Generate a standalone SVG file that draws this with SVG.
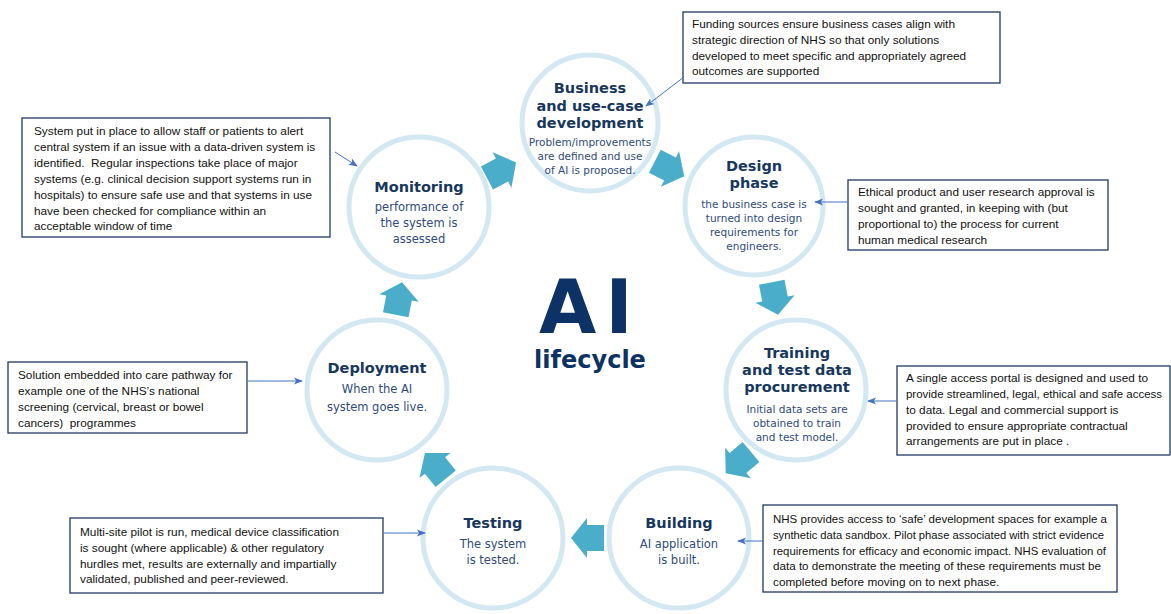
<svg xmlns="http://www.w3.org/2000/svg" width="1171" height="614" viewBox="0 0 1171 614">
<defs>
<style>
.ring{fill:#fff;stroke:#d3e8f2;stroke-width:5}
.t{font-family:"DejaVu Sans",Verdana,sans-serif;font-weight:bold;font-size:14.5px;fill:#17375e;text-anchor:middle}
.b{font-family:"DejaVu Sans",Verdana,sans-serif;font-size:10.5px;fill:#2f4b7c;text-anchor:middle}
.bl{font-family:"DejaVu Sans",Verdana,sans-serif;font-size:11.5px;fill:#2f4b7c;text-anchor:middle}
.box{fill:#fff;stroke:#1f3864;stroke-width:1.3}
.c{font-family:"Liberation Sans",Arial,sans-serif;font-size:11.8px;fill:#111;white-space:pre}
.flow{fill:#4aaecb}
.lead{stroke:#4472c4;stroke-width:1;fill:none;marker-end:url(#ah)}
</style>
<marker id="ah" viewBox="0 0 10 10" refX="9" refY="5" markerWidth="9" markerHeight="9" markerUnits="userSpaceOnUse" orient="auto">
<path d="M0,1 L10,5 L0,9 L2.5,5 Z" fill="#4472c4"/>
</marker>
<polygon id="blk" points="-17,-13 0,-13 0,-20 16,0 0,20 0,13 -17,13"/>
</defs>
<rect width="1171" height="614" fill="#fff"/>

<g id="center-title">
<text x="539" y="333" font-family="DejaVu Sans,Verdana,sans-serif" font-weight="bold" font-size="74" fill="#0d3266" letter-spacing="9">AI</text>
<text x="590" y="368" font-family="DejaVu Sans,Verdana,sans-serif" font-weight="bold" font-size="24" fill="#0d3266" text-anchor="middle">lifecycle</text>
</g>

<g id="flow-arrows" class="flow">
<use href="#blk" transform="translate(502,170) rotate(-28)"/>
<use href="#blk" transform="translate(670,169) rotate(27)"/>
<use href="#blk" transform="translate(775,299) rotate(79)"/>
<use href="#blk" transform="translate(738,463) rotate(140)"/>
<use href="#blk" transform="translate(587,538) rotate(180)"/>
<use href="#blk" transform="translate(435,465.5) rotate(-129)"/>
<use href="#blk" transform="translate(399,298) rotate(-79)"/>
</g>

<g id="node-business">
<circle class="ring" cx="590" cy="123" r="68"/>
<text class="t" x="590" y="93">Business</text>
<text class="t" x="590" y="111">and use-case</text>
<text class="t" x="590" y="128">development</text>
<text class="b" x="590" y="146">Problem/improvements</text>
<text class="b" x="590" y="160">are defined and use</text>
<text class="b" x="590" y="174">of AI is proposed.</text>
</g>

<g id="node-design">
<circle class="ring" cx="754" cy="206" r="69"/>
<text class="t" x="754" y="171">Design</text>
<text class="t" x="754" y="188">phase</text>
<text class="b" x="754" y="208">the business case is</text>
<text class="b" x="754" y="222">turned into design</text>
<text class="b" x="754" y="236">requirements for</text>
<text class="b" x="754" y="250">engineers.</text>
</g>

<g id="node-training">
<circle class="ring" cx="796" cy="390" r="70"/>
<text class="t" x="797" y="358">Training</text>
<text class="t" x="797" y="375">and test data</text>
<text class="t" x="797" y="392">procurement</text>
<text class="b" x="797" y="413">Initial data sets are</text>
<text class="b" x="797" y="427">obtained to train</text>
<text class="b" x="797" y="441">and test model.</text>
</g>

<g id="node-building">
<circle class="ring" cx="679" cy="538" r="70"/>
<text class="t" x="679" y="528">Building</text>
<text class="bl" x="679" y="548">AI application</text>
<text class="bl" x="679" y="564">is built.</text>
</g>

<g id="node-testing">
<circle class="ring" cx="493" cy="538" r="70"/>
<text class="t" x="493" y="528">Testing</text>
<text class="bl" x="493" y="548">The system</text>
<text class="bl" x="493" y="564">is tested.</text>
</g>

<g id="node-deployment">
<circle class="ring" cx="377" cy="390" r="70"/>
<text class="t" x="377" y="373">Deployment</text>
<text class="bl" x="377" y="393">When the AI</text>
<text class="bl" x="377" y="411">system goes live.</text>
</g>

<g id="node-monitoring">
<circle class="ring" cx="419" cy="207" r="70"/>
<text class="t" x="419" y="192">Monitoring</text>
<text class="bl" x="419" y="211">performance of</text>
<text class="bl" x="419" y="227">the system is</text>
<text class="bl" x="419" y="243">assessed</text>
</g>

<g id="note-funding">
<rect class="box" x="683" y="12" width="317" height="71"/>
<text class="c" x="692" y="28">Funding sources ensure business cases align with</text>
<text class="c" x="692" y="44">strategic direction of NHS so that only solutions</text>
<text class="c" x="692" y="60">developed to meet specific and appropriately agreed</text>
<text class="c" x="692" y="75">outcomes are supported</text>
</g>

<g id="note-monitoring">
<rect class="box" x="22" y="118" width="308" height="119"/>
<text class="c" x="34" y="135">System put in place to allow staff or patients to alert</text>
<text class="c" x="34" y="151">central system if an issue with a data-driven system is</text>
<text class="c" x="34" y="167" xml:space="preserve">identified.  Regular inspections take place of major</text>
<text class="c" x="34" y="183">systems (e.g. clinical decision support systems run in</text>
<text class="c" x="34" y="199">hospitals) to ensure safe use and that systems in use</text>
<text class="c" x="34" y="215">have been checked for compliance within an</text>
<text class="c" x="34" y="230">acceptable window of time</text>
</g>

<g id="note-design">
<rect class="box" x="848" y="180" width="260" height="70"/>
<text class="c" x="858" y="196">Ethical product and user research approval is</text>
<text class="c" x="858" y="212">sought and granted, in keeping with (but</text>
<text class="c" x="858" y="228">proportional to) the process for current</text>
<text class="c" x="858" y="244">human medical research</text>
</g>

<g id="note-training">
<rect class="box" x="897" y="366" width="273" height="89"/>
<text class="c" x="906" y="382">A single access portal is designed and used to</text>
<text class="c" x="906" y="398" textLength="256" lengthAdjust="spacingAndGlyphs">provide streamlined, legal, ethical and safe access</text>
<text class="c" x="906" y="414">to data. Legal and commercial support is</text>
<text class="c" x="906" y="430">provided to ensure appropriate contractual</text>
<text class="c" x="906" y="445">arrangements are put in place .</text>
</g>

<g id="note-building">
<rect class="box" x="763" y="505" width="354" height="87"/>
<text class="c" x="773" y="523" textLength="334" lengthAdjust="spacingAndGlyphs">NHS provides access to ‘safe’ development spaces for example a</text>
<text class="c" x="773" y="539" textLength="331" lengthAdjust="spacingAndGlyphs">synthetic data sandbox. Pilot phase associated with strict evidence</text>
<text class="c" x="773" y="555" textLength="333" lengthAdjust="spacingAndGlyphs">requirements for efficacy and economic impact. NHS evaluation of</text>
<text class="c" x="773" y="570" textLength="328" lengthAdjust="spacingAndGlyphs">data to demonstrate the meeting of these requirements must be</text>
<text class="c" x="773" y="586">completed before moving on to next phase.</text>
</g>

<g id="note-testing">
<rect class="box" x="70" y="518" width="313" height="75"/>
<text class="c" x="80" y="536">Multi-site pilot is run, medical device classification</text>
<text class="c" x="80" y="552">is sought (where applicable) &amp; other regulatory</text>
<text class="c" x="80" y="568">hurdles met, results are externally and impartially</text>
<text class="c" x="80" y="583">validated, published and peer-reviewed.</text>
</g>

<g id="note-deployment">
<rect class="box" x="8" y="362" width="239" height="71"/>
<text class="c" x="18" y="379">Solution embedded into care pathway for</text>
<text class="c" x="18" y="395">example one of the NHS’s national</text>
<text class="c" x="18" y="411">screening (cervical, breast or bowel</text>
<text class="c" x="18" y="427" xml:space="preserve">cancers)  programmes</text>
</g>

<g id="connectors">
<line class="lead" x1="684" y1="77" x2="646" y2="106"/>
<line class="lead" x1="335" y1="152" x2="357" y2="166"/>
<line class="lead" x1="847" y1="202" x2="815" y2="202"/>
<line class="lead" x1="896" y1="401" x2="868" y2="401"/>
<line class="lead" x1="762" y1="541" x2="738" y2="541"/>
<line class="lead" x1="384" y1="533" x2="425" y2="533"/>
<line class="lead" x1="248" y1="381" x2="302" y2="381"/>
</g>
</svg>
